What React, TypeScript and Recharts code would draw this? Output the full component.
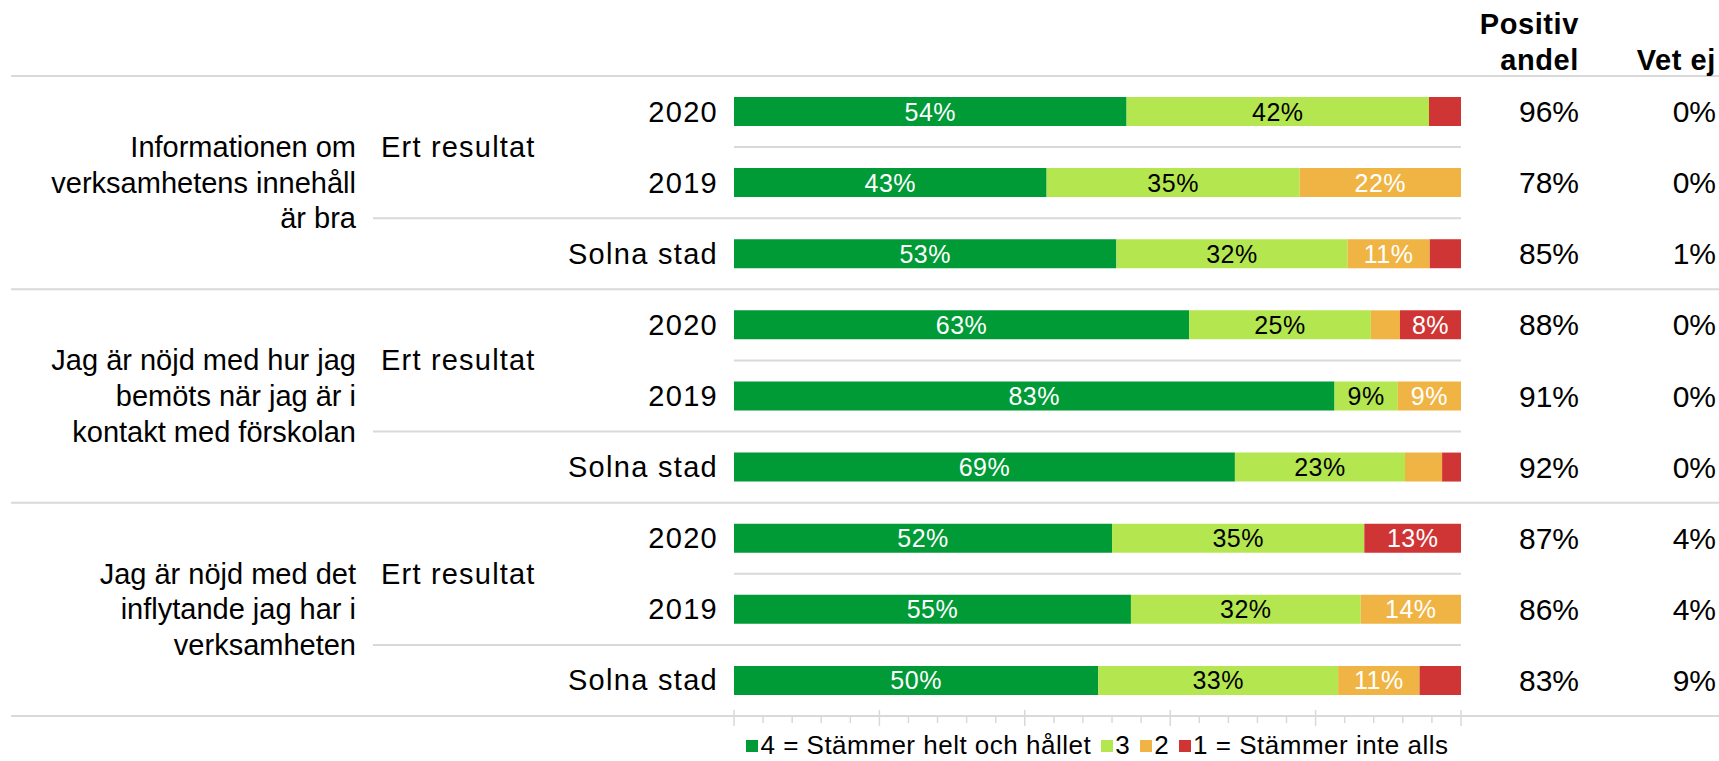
import React from 'react'
import { BarChart, Bar, XAxis, YAxis, LabelList } from 'recharts'

const questions = [
  ['Informationen om', 'verksamhetens innehåll', 'är bra'],
  ['Jag är nöjd med hur jag', 'bemöts när jag är i', 'kontakt med förskolan'],
  ['Jag är nöjd med det', 'inflytande jag har i', 'verksamheten'],
]
const groupLabel = 'Ert resultat'
const rowLabels = ['2020', '2019', 'Solna stad']

const seriesNames = ['4 = Stämmer helt och hållet', '3', '2', '1 = Stämmer inte alls']
const seriesColors = ['#009a36', '#b4e650', '#efb443', '#d03536']
const labelColors = ['#ffffff', '#000000', '#ffffff', '#ffffff']

// andel per svarsalternativ, en rad per stapel (uppifrån och ned)
const s4 = [54, 43, 52.6, 62.6, 82.6, 68.9, 52, 54.6, 50.1]
const s3 = [41.6, 34.8, 31.8, 25, 8.7, 23.4, 34.7, 31.6, 33]
const s2 = [0, 22.2, 11.3, 4, 8.7, 5.1, 0, 13.8, 11.2]
const s1 = [4.4, 0, 4.3, 8.4, 0, 2.6, 13.3, 0, 5.7]
const positiv = [96, 78, 85, 88, 91, 92, 87, 86, 83]
const vetEj = [0, 0, 1, 0, 0, 0, 4, 4, 9]

const xTicks = [0, 4, 8, 12, 16, 20, 24, 28, 32, 36, 40, 44, 48, 52, 56, 60, 64, 68, 72, 76, 80, 84, 88, 92, 96, 100]

const keys = ['s4', 's3', 's2', 's1']
const rows = s4.map((_, i) => ({
  id: 'r' + i,
  s4: s4[i],
  s3: s3[i],
  s2: s2[i],
  s1: s1[i],
}))

const W = 1719
const H = 761
const TOP = 76
const BOTTOM = 45
const LEFT_W = 734
const RIGHT_W = 258
const ROW_H = (H - TOP - BOTTOM) / rows.length
const FONT = "'Liberation Sans', Arial, sans-serif"
const LINE = '#d9d9d9'
const PLOT_L = LEFT_W
const PLOT_R = W - RIGHT_W

function LeftTick(props: any) {
  const { y, payload } = props
  const i = rows.findIndex((r) => r.id === payload.value)
  if (i < 0) return null
  const g = Math.floor(i / 3)
  const r = i % 3
  const half = ROW_H / 2
  return (
    <g fontFamily={FONT} fill='#000'>
      <text x={PLOT_L - 16} y={y} textAnchor='end' dominantBaseline='central' fontSize={29} letterSpacing={1.3}>
        {rowLabels[r]}
      </text>
      {i === 0 && <line x1={11} x2={W} y1={y - half} y2={y - half} stroke={LINE} strokeWidth={2} />}
      {r === 0 && (
        <>
          <text x={381} y={y + half} dominantBaseline='central' fontSize={29} letterSpacing={1.2}>{groupLabel}</text>
          <line x1={PLOT_L} x2={PLOT_R} y1={y + half} y2={y + half} stroke={LINE} strokeWidth={2} />
        </>
      )}
      {r === 1 && (
        <>
          {questions[g].map((t, k) => (
            <text key={k} x={356} y={y + (k - 1) * half} textAnchor='end' dominantBaseline='central' fontSize={29}>
              {t}
            </text>
          ))}
          <line x1={373} x2={PLOT_R} y1={y + half} y2={y + half} stroke={LINE} strokeWidth={2} />
        </>
      )}
      {r === 2 && <line x1={11} x2={W} y1={y + half} y2={y + half} stroke={LINE} strokeWidth={2} />}
    </g>
  )
}

function RightTick(props: any) {
  const { x, y, payload } = props
  const i = rows.findIndex((r) => r.id === payload.value)
  if (i < 0) return null
  return (
    <g fontFamily={FONT} fill='#000'>
      {i === 0 && (
        <g fontWeight='bold' fontSize={29} letterSpacing={0.6}>
          <text x={x + 118} y={y - 88} textAnchor='end' dominantBaseline='central'>Positiv</text>
          <text x={x + 118} y={y - 52} textAnchor='end' dominantBaseline='central'>andel</text>
          <text x={x + 255} y={y - 52} textAnchor='end' dominantBaseline='central'>Vet ej</text>
        </g>
      )}
      <text x={x + 118} y={y} textAnchor='end' dominantBaseline='central' fontSize={30}>{positiv[i] + '%'}</text>
      <text x={x + 255} y={y} textAnchor='end' dominantBaseline='central' fontSize={30}>{vetEj[i] + '%'}</text>
    </g>
  )
}

function XTick(props: any) {
  const { x, y, payload } = props
  const major = payload.value % 20 === 0
  return <line x1={x} x2={x} y1={major ? y - 6 : y} y2={major ? y + 10 : y + 7} stroke={LINE} strokeWidth={1.5} />
}

const segLabel = (color: string) => (props: any) => {
  const { x, y, width, height, value } = props
  if (!value || value < 7.5) return null
  return (
    <text
      x={x + width / 2}
      y={y + height / 2}
      textAnchor='middle'
      dominantBaseline='central'
      fontSize={25}
      letterSpacing={0.5}
      fontFamily={FONT}
      fill={color}
    >
      {Math.round(value) + '%'}
    </text>
  )
}

export default function App() {
  return (
    <div style={{ position: 'absolute', left: 0, top: 0, width: W, height: H, fontFamily: FONT }}>
      <BarChart
        width={W}
        height={H}
        data={rows}
        layout='vertical'
        margin={{ top: TOP, right: 0, bottom: BOTTOM - 20, left: 0 }}
        barSize={29}
      >
        <XAxis
          type='number'
          domain={[0, 100]}
          ticks={xTicks}
          interval={0}
          axisLine={false}
          tickLine={false}
          tickSize={0}
          tickMargin={0}
          height={20}
          tick={<XTick />}
          allowDataOverflow
        />
        <YAxis
          yAxisId='left'
          type='category'
          dataKey='id'
          width={LEFT_W}
          axisLine={false}
          tickLine={false}
          tickSize={0}
          tickMargin={0}
          interval={0}
          tick={<LeftTick />}
        />
        <YAxis
          yAxisId='right'
          orientation='right'
          type='category'
          dataKey='id'
          width={RIGHT_W}
          axisLine={false}
          tickLine={false}
          tickSize={0}
          tickMargin={0}
          interval={0}
          tick={<RightTick />}
        />
        {keys.map((k, idx) => (
          <Bar key={k} dataKey={k} name={seriesNames[idx]} stackId='a' yAxisId='left' fill={seriesColors[idx]} isAnimationActive={false}>
            <LabelList dataKey={k} content={segLabel(labelColors[idx])} />
          </Bar>
        ))}
      </BarChart>
      <div
        style={{
          position: 'absolute',
          left: PLOT_L,
          width: PLOT_R - PLOT_L,
          top: 730,
          display: 'flex',
          justifyContent: 'center',
          alignItems: 'center',
          fontSize: 26,
          letterSpacing: 0.5,
          color: '#000',
          whiteSpace: 'nowrap',
        }}
      >
        {seriesNames.map((n, idx) => (
          <span key={n} style={{ display: 'inline-flex', alignItems: 'center', marginRight: idx < seriesNames.length - 1 ? 10 : 0 }}>
            <span style={{ width: 12, height: 12, background: seriesColors[idx], display: 'inline-block', marginRight: 2 }} />
            {n}
          </span>
        ))}
      </div>
    </div>
  )
}
